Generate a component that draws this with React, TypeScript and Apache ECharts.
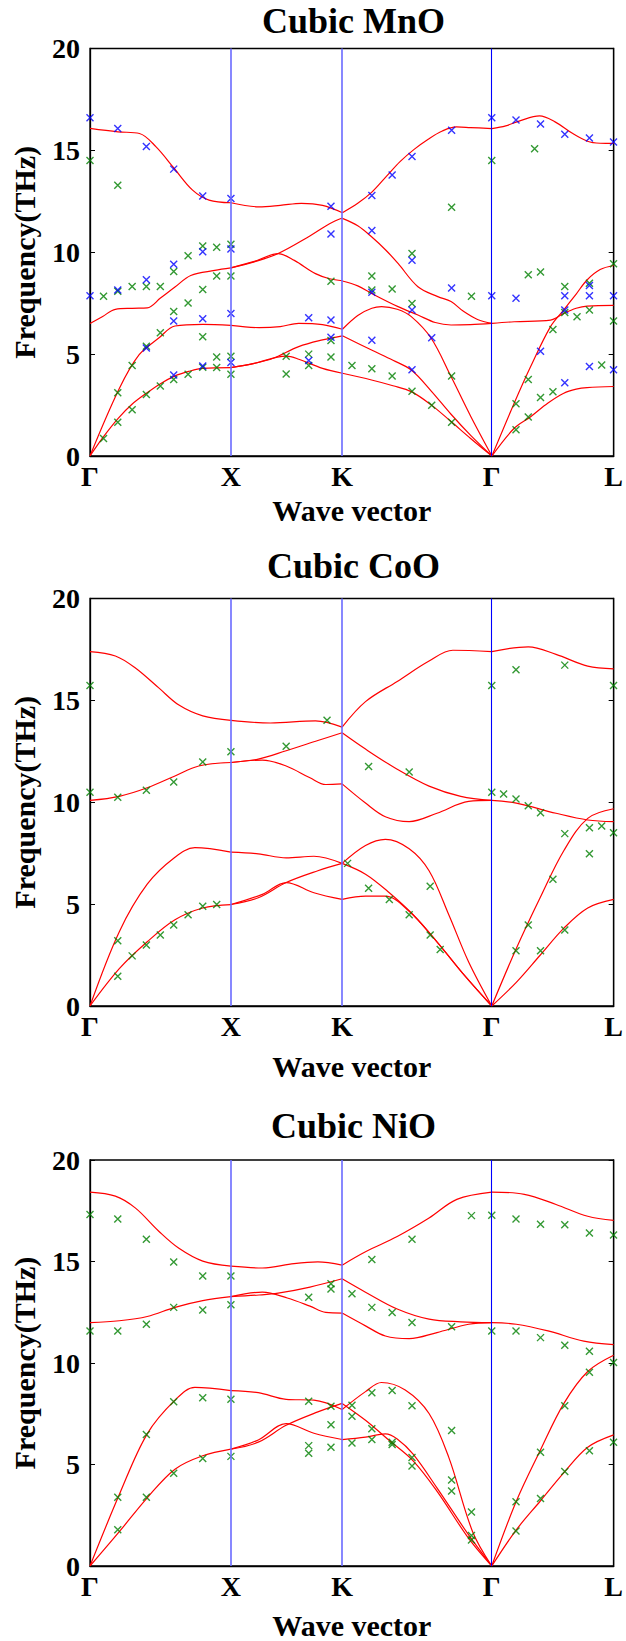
import React, { useEffect, useRef } from "react";
import * as echarts from "echarts";

// ---- axis definitions ----
const K_LABELS = ["Γ", "X", "K", "Γ", "L"];
const K_POS = [0, 1, 1.789, 2.851, 3.716];
const Y_MIN = 0;
const Y_MAX = 20;
const Y_STEP = 5;
const TITLES = ["Cubic MnO", "Cubic CoO", "Cubic NiO"];
const X_NAME = "Wave vector";
const Y_NAME = "Frequency(THz)";

// ---- MnO calculated bands ----
const MNO_BANDS: number[][][] = [
  [[0, 0], [0.096, 0.95], [0.2, 1.85], [0.3, 2.55], [0.4, 3.08], [0.5, 3.55], [0.6, 3.92], [0.7, 4.15], [0.8, 4.3], [1, 4.34]],
  [[0, 0], [0.208, 3.31], [0.349, 4.97], [0.49, 5.8], [0.603, 6.38], [0.8, 6.46], [1, 6.41]],
  [[0, 6.5], [0.09, 6.85], [0.18, 7.2], [0.3, 7.25], [0.406, 7.27], [0.5, 7.75], [0.603, 8.29], [0.715, 8.86], [0.885, 9.11], [1, 9.23]],
  [[0, 16.08], [0.198, 15.91], [0.351, 15.83], [0.469, 15.17], [0.598, 14.11], [0.728, 13.05], [0.845, 12.56], [1, 12.43]],
  [[1, 4.34], [1.166, 4.55], [1.3, 4.8], [1.481, 5.37], [1.65, 5.7], [1.791, 5.9]],
  [[1, 4.34], [1.166, 4.55], [1.392, 4.9], [1.481, 4.75], [1.65, 4.3], [1.791, 4.06]],
  [[1, 6.41], [1.2, 6.3], [1.35, 6.35], [1.481, 6.51], [1.65, 6.45], [1.791, 6.22]],
  [[1, 9.23], [1.166, 9.53], [1.335, 9.94], [1.56, 10.8], [1.7, 11.4], [1.791, 11.68]],
  [[1, 9.23], [1.166, 9.55], [1.335, 9.93], [1.45, 9.6], [1.6, 8.95], [1.7, 8.7], [1.791, 8.6]],
  [[1, 12.43], [1.198, 12.23], [1.35, 12.3], [1.5, 12.4], [1.65, 12.3], [1.791, 11.94]],
  [[1.791, 4.06], [1.998, 3.73], [2.15, 3.45], [2.28, 3.16], [2.421, 2.51], [2.562, 1.69], [2.703, 0.85], [2.852, 0]],
  [[1.791, 5.9], [1.998, 5.2], [2.15, 4.7], [2.28, 4.22], [2.42, 3.2], [2.562, 2.05], [2.703, 1.0], [2.852, 0]],
  [[1.791, 6.22], [1.9, 6.9], [2.0, 7.25], [2.069, 7.33], [2.18, 7.2], [2.28, 6.84], [2.421, 5.78], [2.562, 3.9], [2.703, 1.93], [2.852, 0]],
  [[1.791, 8.59], [1.9, 8.35], [1.998, 7.98], [2.186, 7.33], [2.327, 6.92], [2.45, 6.55], [2.562, 6.43], [2.7, 6.45], [2.852, 6.51]],
  [[1.791, 11.66], [1.9, 11.3], [1.998, 10.76], [2.1, 10.1], [2.186, 9.45], [2.327, 8.31], [2.468, 7.82], [2.562, 7.58], [2.65, 7.1], [2.75, 6.7], [2.852, 6.51]],
  [[1.791, 11.94], [1.9, 12.4], [2.0, 12.95], [2.1, 13.7], [2.2, 14.45], [2.3, 15.05], [2.4, 15.55], [2.5, 15.95], [2.6, 16.15], [2.7, 16.12], [2.852, 16.07]],
  [[2.852, 0], [3.01, 1.36], [3.127, 1.93], [3.25, 2.6], [3.362, 3.08], [3.45, 3.28], [3.527, 3.36], [3.716, 3.41]],
  [[2.852, 0], [3.01, 2.59], [3.127, 4.39], [3.268, 6.35], [3.362, 7.17], [3.45, 7.95], [3.527, 8.64], [3.62, 9.15], [3.716, 9.35]],
  [[2.852, 6.51], [3.01, 6.59], [3.268, 6.67], [3.362, 7.0], [3.45, 7.25], [3.527, 7.36], [3.716, 7.39]],
  [[2.852, 16.07], [2.95, 16.2], [3.05, 16.45], [3.19, 16.69], [3.3, 16.4], [3.42, 15.85], [3.53, 15.45], [3.62, 15.35], [3.716, 15.34]],
];

const MNO_GREEN: number[][] = [
  [0, 14.5], [0.197, 13.29], [2.566, 12.21], [2.851, 14.5], [3.155, 15.08],
  [0.096, 7.84], [0.197, 8.09], [0.299, 8.32], [0.4, 8.32], [0.499, 8.32], [0.594, 9.06], [0.696, 9.83],
  [0.8, 10.31], [0.899, 10.24], [1.0, 10.39], [0.899, 8.83], [1.0, 8.83], [0.8, 8.17], [0.696, 7.51],
  [0.594, 7.09], [0.499, 6.05], [0.4, 5.39], [0.299, 4.44], [0.197, 3.1], [0.4, 3.02], [0.499, 3.43],
  [0.594, 3.76], [0.696, 4.01], [0.8, 4.36], [0.899, 4.34], [0.899, 4.86], [1.0, 4.89], [1.0, 4.01],
  [0.8, 5.85], [0.299, 2.27], [0.197, 1.66], [0.096, 0.86], [1.392, 4.89], [1.392, 4.03], [1.552, 5.0],
  [1.552, 4.44], [1.71, 8.58], [1.71, 5.67], [1.71, 4.86], [1.859, 4.44], [2.0, 8.83], [2.0, 8.15],
  [2.0, 4.28], [2.144, 8.2], [2.144, 3.93], [2.285, 9.94], [2.285, 7.49], [2.285, 3.18], [2.425, 2.49],
  [2.566, 3.93], [2.566, 1.66], [2.707, 7.84], [3.023, 2.57], [3.023, 1.29], [3.11, 8.9], [3.11, 3.76],
  [3.11, 1.91], [3.197, 9.03], [3.197, 2.87], [3.285, 6.21], [3.285, 3.15], [3.369, 8.32], [3.369, 7.04],
  [3.456, 6.83], [3.544, 8.48], [3.544, 7.17], [3.631, 4.47], [3.715, 9.44], [3.715, 6.63],
];

const MNO_BLUE: number[][] = [
  [0, 16.6], [0.197, 16.07], [0.4, 15.19], [0.594, 14.08], [0.8, 12.76], [1.0, 12.64], [1.71, 12.26],
  [2.0, 12.79], [2.144, 13.79], [2.285, 14.7], [2.566, 15.99], [2.851, 16.6], [3.023, 16.49], [3.197, 16.29],
  [3.369, 15.79], [3.544, 15.61], [3.715, 15.41],
  [0, 7.87], [0.197, 8.15], [0.4, 8.65], [0.594, 9.41], [0.8, 10.02], [1.0, 10.16], [1.71, 10.9],
  [2.0, 11.07], [2.285, 9.61], [2.566, 8.24], [2.851, 7.87], [3.023, 7.74], [3.369, 7.87], [3.544, 8.37],
  [3.544, 7.87], [3.715, 7.87], [2.0, 8.04], [2.285, 7.17], [3.369, 7.17],
  [0.594, 6.63], [0.8, 6.74], [1.0, 6.99], [1.552, 6.79], [1.71, 6.68], [0.4, 5.3], [1.71, 5.83],
  [2.0, 5.68], [2.425, 5.8], [3.197, 5.14], [0.8, 4.42], [1.0, 4.59], [1.552, 4.69], [2.285, 4.23],
  [3.369, 3.6], [3.544, 4.39], [3.715, 4.23], [0.594, 3.98],
];

// ---- CoO calculated bands ----
const COO_BANDS: number[][][] = [
  [[0, 0], [0.208, 1.83], [0.406, 3.15], [0.603, 4.23], [0.8, 4.81], [1, 4.98]],
  [[0, 0], [0.208, 3.65], [0.406, 5.98], [0.603, 7.3], [0.744, 7.77], [1, 7.55]],
  [[0, 10.09], [0.208, 10.29], [0.406, 10.71], [0.603, 11.29], [0.772, 11.78], [1, 11.95]],
  [[0, 17.39], [0.18, 17.18], [0.32, 16.6], [0.49, 15.6], [0.631, 14.77], [0.8, 14.24], [1, 14.02]],
  [[1, 4.98], [1.194, 5.31], [1.392, 6.06], [1.617, 6.64], [1.789, 7.0]],
  [[1, 4.98], [1.223, 5.48], [1.392, 6.06], [1.589, 5.56], [1.789, 5.23]],
  [[1, 7.55], [1.194, 7.47], [1.392, 7.27], [1.589, 7.35], [1.789, 7.0]],
  [[1, 11.95], [1.194, 12.12], [1.392, 12.53], [1.617, 13.03], [1.789, 13.41]],
  [[1, 11.95], [1.223, 12.07], [1.392, 11.78], [1.561, 11.2], [1.673, 10.87], [1.789, 10.9]],
  [[1, 14.02], [1.28, 13.89], [1.6, 13.99], [1.789, 13.69]],
  [[1.789, 7.0], [1.955, 7.88], [2.096, 8.18], [2.265, 7.72], [2.406, 6.64], [2.546, 4.48], [2.687, 2.16], [2.851, 0]],
  [[1.789, 7.0], [1.955, 6.47], [2.124, 5.56], [2.293, 4.48], [2.462, 3.15], [2.659, 1.49], [2.851, 0]],
  [[1.789, 5.23], [1.955, 5.39], [2.096, 5.39], [2.265, 4.65], [2.462, 3.15], [2.659, 1.49], [2.851, 0]],
  [[1.789, 13.41], [1.955, 12.61], [2.18, 11.62], [2.406, 10.79], [2.631, 10.29], [2.851, 10.09]],
  [[1.789, 10.9], [1.955, 9.96], [2.096, 9.29], [2.265, 9.05], [2.462, 9.46], [2.687, 10.04], [2.851, 10.09]],
  [[1.789, 13.69], [1.955, 14.94], [2.18, 15.93], [2.406, 16.93], [2.575, 17.46], [2.851, 17.39]],
  [[2.851, 0], [3.025, 1.16], [3.194, 2.49], [3.363, 3.82], [3.532, 4.81], [3.716, 5.23]],
  [[2.851, 0], [3.025, 2.82], [3.194, 5.31], [3.363, 7.63], [3.532, 9.21], [3.716, 9.68]],
  [[2.851, 10.09], [3.025, 9.96], [3.307, 9.46], [3.532, 9.13], [3.716, 9.05]],
  [[2.851, 17.39], [3.11, 17.63], [3.307, 17.26], [3.532, 16.68], [3.716, 16.55]],
];

const COO_GREEN: number[][] = [
  [0, 15.73], [0, 10.49], [0.197, 10.24], [0.4, 10.59], [0.594, 10.99], [0.8, 11.98], [1.0, 12.48],
  [1.392, 12.75], [1.682, 14.02], [1.977, 11.75], [2.265, 11.49], [2.851, 15.73], [3.023, 16.5],
  [3.369, 16.73], [3.715, 15.73], [2.851, 10.49], [2.935, 10.41], [3.023, 10.16], [3.11, 9.83],
  [3.197, 9.49], [3.369, 8.46], [3.544, 8.75], [3.631, 8.83], [3.715, 8.5], [3.544, 7.47], [3.285, 6.22],
  [3.11, 3.98], [3.023, 2.71], [3.197, 2.71], [3.369, 3.73], [1.828, 7.0], [1.977, 5.78], [2.124, 5.23],
  [2.265, 4.48], [2.414, 5.88], [2.414, 3.49], [2.485, 2.77], [0.197, 3.2], [0.197, 1.46], [0.299, 2.46],
  [0.4, 2.99], [0.499, 3.49], [0.594, 3.98], [0.696, 4.48], [0.8, 4.9], [0.899, 4.98],
];

const COO_BLUE: number[][] = [];

// ---- NiO calculated bands ----
const NIO_BANDS: number[][][] = [
  [[0, 0], [0.208, 1.69], [0.406, 3.36], [0.603, 4.77], [0.8, 5.43], [1, 5.76]],
  [[0, 0], [0.208, 3.52], [0.406, 6.51], [0.603, 8.17], [0.744, 8.8], [1, 8.64]],
  [[0, 11.99], [0.208, 12.08], [0.406, 12.29], [0.603, 12.74], [0.8, 13.07], [1, 13.27]],
  [[0, 18.42], [0.18, 18.22], [0.321, 17.64], [0.49, 16.48], [0.631, 15.65], [0.8, 15.02], [1, 14.77]],
  [[1, 5.76], [1.194, 6.1], [1.392, 6.93], [1.617, 7.59], [1.789, 8.01]],
  [[1, 5.76], [1.194, 6.21], [1.392, 7.01], [1.589, 6.54], [1.789, 6.23]],
  [[1, 8.64], [1.194, 8.54], [1.392, 8.21], [1.589, 8.17], [1.789, 7.71]],
  [[1, 13.27], [1.2, 13.35], [1.335, 13.44], [1.561, 13.74], [1.789, 14.15]],
  [[1, 13.27], [1.223, 13.49], [1.4, 13.2], [1.561, 12.8], [1.673, 12.49], [1.789, 12.46]],
  [[1, 14.77], [1.223, 14.68], [1.448, 14.9], [1.617, 14.98], [1.789, 14.82]],
  [[1.789, 7.71], [1.955, 8.59], [2.068, 9.04], [2.237, 8.67], [2.406, 7.51], [2.546, 5.35], [2.715, 1.69], [2.851, 0]],
  [[1.789, 8.01], [1.955, 7.18], [2.124, 6.18], [2.293, 5.18], [2.462, 3.69], [2.687, 1.36], [2.851, 0]],
  [[1.789, 6.23], [1.955, 6.35], [2.096, 6.51], [2.18, 6.26], [2.293, 5.51], [2.462, 3.85], [2.687, 1.53], [2.851, 0]],
  [[1.789, 14.15], [1.955, 13.49], [2.18, 12.66], [2.406, 12.16], [2.631, 12.03], [2.851, 11.99]],
  [[1.789, 12.46], [1.955, 11.83], [2.096, 11.33], [2.265, 11.2], [2.462, 11.5], [2.687, 11.91], [2.851, 11.99]],
  [[1.789, 14.82], [1.955, 15.48], [2.18, 16.23], [2.406, 17.14], [2.603, 18.06], [2.851, 18.42]],
  [[2.851, 0], [3.025, 1.78], [3.194, 3.19], [3.363, 4.6], [3.532, 5.85], [3.716, 6.46]],
  [[2.851, 0], [3.025, 3.19], [3.194, 5.68], [3.363, 8.01], [3.532, 9.58], [3.716, 10.38]],
  [[2.851, 11.99], [3.025, 11.91], [3.25, 11.58], [3.504, 11.08], [3.716, 10.91]],
  [[2.851, 18.42], [3.082, 18.31], [3.307, 17.81], [3.532, 17.23], [3.716, 17.03]],
];

const NIO_GREEN: number[][] = [
  [0, 17.31], [0.197, 17.09], [0.4, 16.1], [0.594, 14.98], [0.8, 14.29], [1.0, 14.29], [2.707, 17.26],
  [2.851, 17.28], [3.023, 17.09], [3.197, 16.84], [3.369, 16.81], [3.544, 16.4], [3.715, 16.31],
  [2.285, 16.1], [2.0, 15.1], [0, 11.58], [0.197, 11.58], [0.4, 11.91], [0.594, 12.74], [0.8, 12.61],
  [1.0, 12.87], [1.552, 13.24], [1.71, 13.9], [1.71, 13.65], [1.859, 13.41], [2.0, 12.74], [2.144, 12.49],
  [2.285, 11.99], [2.566, 11.79], [2.851, 11.58], [3.023, 11.58], [3.197, 11.25], [3.369, 10.88],
  [3.544, 10.58], [3.715, 10.03], [3.544, 9.55], [3.369, 7.89], [3.197, 5.6], [3.023, 3.16], [3.197, 3.32],
  [3.369, 4.65], [3.544, 5.68], [3.715, 6.1], [3.023, 1.73], [0.594, 8.09], [0.8, 8.29], [1.0, 8.22],
  [0.4, 6.48], [0.197, 3.39], [0.4, 3.39], [0.197, 1.78], [0.594, 4.57], [0.8, 5.3], [1.0, 5.4],
  [1.552, 8.12], [1.552, 5.93], [1.552, 5.56], [1.71, 7.87], [1.71, 6.96], [1.71, 5.85], [1.859, 7.92],
  [1.859, 7.38], [1.859, 6.06], [2.0, 8.54], [2.0, 6.76], [2.0, 6.23], [2.144, 8.64], [2.144, 6.1],
  [2.144, 5.98], [2.285, 7.89], [2.285, 5.35], [2.285, 4.93], [2.566, 6.68], [2.566, 4.24], [2.566, 3.69],
  [2.707, 2.66], [2.707, 1.5], [2.707, 1.28],
];

const NIO_BLUE: number[][] = [];

const PANELS = [
  { title: TITLES[0], bands: MNO_BANDS, green: MNO_GREEN, blue: MNO_BLUE },
  { title: TITLES[1], bands: COO_BANDS, green: COO_GREEN, blue: COO_BLUE },
  { title: TITLES[2], bands: NIO_BANDS, green: NIO_GREEN, blue: NIO_BLUE },
];

// ---- layout / style ----
const W = 626;
const H = 1641;
const GRID_TOPS = [48.5, 598.5, 1160];
const GRID_H = 407.5;
const GRID_LEFT = 90;
const GRID_RIGHT = 9;
const TITLE_TOPS = [3, 548, 1108];
const X_NAME_GAPS = [39, 45, 44];
const FONT = "'Liberation Serif', 'Times New Roman', serif";
const CROSS = "path://M0,0L10,10M10,0L0,10";

function labelFor(v: number): string {
  for (let i = 0; i < K_POS.length; i++) {
    if (Math.abs(K_POS[i] - v) < 1e-6) return K_LABELS[i];
  }
  return "";
}

function buildOption() {
  const grid: any[] = [];
  const xAxis: any[] = [];
  const yAxis: any[] = [];
  const series: any[] = [];
  const title: any[] = [];

  PANELS.forEach((p, i) => {
    title.push({
      text: p.title,
      left: GRID_LEFT + (W - GRID_LEFT - GRID_RIGHT) / 2,
      textAlign: "center",
      top: TITLE_TOPS[i],
      padding: 0,
      textStyle: { fontFamily: FONT, fontWeight: "bold", fontSize: 36, color: "#000" },
    });
    grid.push({
      left: GRID_LEFT,
      right: GRID_RIGHT,
      top: GRID_TOPS[i],
      height: GRID_H,
      show: true,
      borderColor: "#000",
      borderWidth: 1.3,
    });
    xAxis.push({
      gridIndex: i,
      type: "value",
      min: 0,
      max: K_POS[K_POS.length - 1],
      axisLine: { show: true, lineStyle: { color: "#000", width: 1.3 } },
      axisTick: { show: false },
      splitLine: { show: false },
      axisLabel: {
        customValues: K_POS,
        formatter: (v: number) => labelFor(v),
        fontFamily: FONT,
        fontWeight: "bold",
        fontSize: 28,
        color: "#000",
        margin: 6,
      },
      name: X_NAME,
      nameLocation: "middle",
      nameGap: X_NAME_GAPS[i],
      nameTextStyle: { fontFamily: FONT, fontWeight: "bold", fontSize: 30, color: "#000" },
    });
    yAxis.push({
      gridIndex: i,
      type: "value",
      min: Y_MIN,
      max: Y_MAX,
      interval: Y_STEP,
      axisLine: { show: true, lineStyle: { color: "#000", width: 1.3 } },
      axisTick: { show: true, inside: true, length: 5, lineStyle: { color: "#000", width: 1 } },
      splitLine: { show: false },
      axisLabel: { fontFamily: FONT, fontWeight: "bold", fontSize: 28, color: "#000", margin: 10 },
      name: Y_NAME,
      nameLocation: "middle",
      nameRotate: 90,
      nameGap: 51,
      nameTextStyle: { fontFamily: FONT, fontWeight: "bold", fontSize: 30, color: "#000" },
    });
    yAxis.push({
      gridIndex: i,
      type: "value",
      position: "right",
      min: Y_MIN,
      max: Y_MAX,
      interval: Y_STEP,
      axisLine: { show: true, lineStyle: { color: "#000", width: 1.3 } },
      axisTick: { show: true, inside: true, length: 5, lineStyle: { color: "#000", width: 1 } },
      axisLabel: { show: false },
      splitLine: { show: false },
    });

    // vertical high-symmetry lines
    series.push({
      type: "line",
      xAxisIndex: i,
      yAxisIndex: 2 * i,
      data: [],
      silent: true,
      z: 1,
      markLine: {
        silent: true,
        symbol: ["none", "none"],
        label: { show: false },
        animation: false,
        data: [
          { xAxis: K_POS[1], lineStyle: { color: "#6a6aff", width: 1.6, type: "solid" } },
          { xAxis: K_POS[2], lineStyle: { color: "#6a6aff", width: 1.6, type: "solid" } },
          { xAxis: K_POS[3], lineStyle: { color: "#0000ff", width: 1.1, type: "solid" } },
        ],
      },
    });

    p.bands.forEach((b) => {
      series.push({
        type: "line",
        xAxisIndex: i,
        yAxisIndex: 2 * i,
        data: b,
        smooth: 0.35,
        showSymbol: false,
        symbol: "none",
        silent: true,
        z: 3,
        lineStyle: { color: "#ff0000", width: 1.2 },
      });
    });

    [
      { d: p.green, c: "#008000" },
      { d: p.blue, c: "#0000ff" },
    ].forEach((s) => {
      if (!s.d.length) return;
      series.push({
        type: "scatter",
        xAxisIndex: i,
        yAxisIndex: 2 * i,
        data: s.d,
        symbol: CROSS,
        symbolSize: 7,
        silent: true,
        clip: false,
        z: 4,
        itemStyle: { color: "none", borderColor: s.c, borderWidth: 1.4 },
      });
    });
  });

  return {
    animation: false,
    backgroundColor: "#fff",
    title,
    grid,
    xAxis,
    yAxis,
    series,
  };
}

export default function App() {
  const ref = useRef<HTMLDivElement>(null);
  useEffect(() => {
    if (!ref.current) return;
    const chart = echarts.init(ref.current, null, { renderer: "svg" });
    chart.setOption(buildOption() as any);
    return () => chart.dispose();
  }, []);
  return (
    <div
      ref={ref}
      style={{ position: "absolute", left: 0, top: 0, width: W, height: H, background: "#fff" }}
    />
  );
}
